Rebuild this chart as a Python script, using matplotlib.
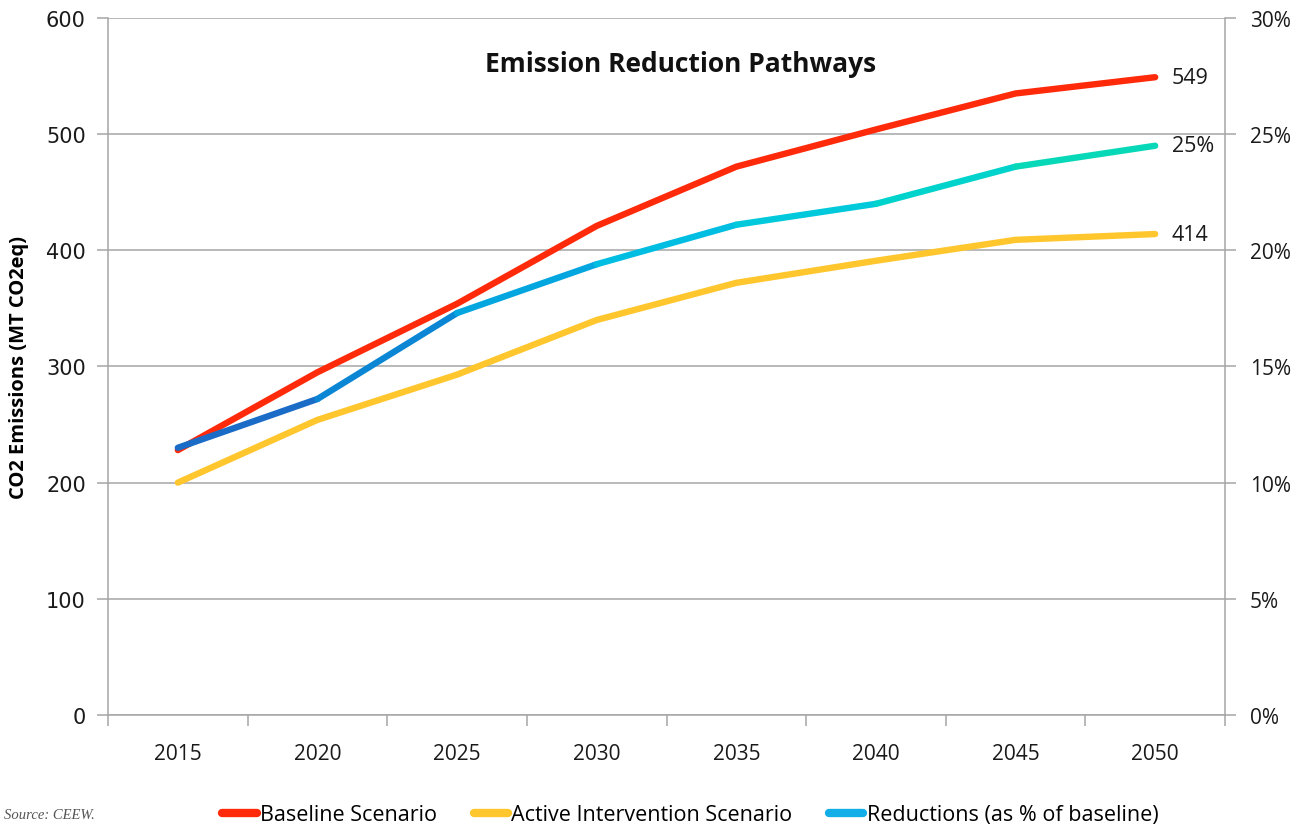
import numpy as np
import matplotlib
matplotlib.use("Agg")
import matplotlib.pyplot as plt
from matplotlib.collections import LineCollection
from matplotlib.ticker import FuncFormatter

years = ["2015", "2020", "2025", "2030", "2035", "2040", "2045", "2050"]
baseline = [228, 295, 354, 421, 472, 504, 535, 549]
active = [200, 254, 293, 340, 372, 391, 409, 414]
reductions = [11.5, 13.6, 17.3, 19.4, 21.1, 22.0, 23.6, 24.5]

RED = "#ff2a0a"
YELLOW = "#ffc62e"
BLUE_LEG = "#12aee8"
GRID = "#a6a6a6"
seg_colors = ["#1a6cc6", "#0a86d4", "#04a6e0", "#00bde2", "#00c9dc", "#00d2cc", "#06d8b8"]

plt.rcParams["font.family"] = ["Open Sans", "DejaVu Sans"]

fig = plt.figure(figsize=(13, 8.28), dpi=100)
ax = fig.add_axes([0.0831, 0.1353, 0.8592, 0.8418])
x = np.arange(len(years))

ax.plot(x, active, color=YELLOW, lw=4.6, solid_capstyle="round", solid_joinstyle="round", zorder=3)
ax.plot(x, baseline, color=RED, lw=4.6, solid_capstyle="round", solid_joinstyle="round", zorder=4)

ax.set_xlim(-0.5, len(years) - 0.5)
ax.set_ylim(0, 600)
ax.set_yticks(range(0, 601, 100))
ax.yaxis.grid(True, color=GRID, lw=1.1)
ax.set_axisbelow(True)
ax.set_xticks(x)
ax.set_xticklabels(years)
ax.set_xticks(np.arange(-0.5, len(years)), minor=True)
ax.tick_params(axis="x", which="major", length=0, pad=20, labelsize=15, colors="#1a1a1a")
ax.tick_params(axis="x", which="minor", length=8, color=GRID, width=1.1)
ax.tick_params(axis="y", length=8, color=GRID, width=1.1, labelsize=15, labelcolor="#1a1a1a", pad=8)
for lab in ax.get_yticklabels():
    lab.set_family("DejaVu Sans")
for side in ["left", "right", "bottom"]:
    ax.spines[side].set_color(GRID)
    ax.spines[side].set_linewidth(1.1)
ax.spines["top"].set_visible(False)
ax.set_ylabel("CO2 Emissions (MT CO2eq)", fontsize=14.5, fontweight="bold", labelpad=12)

ax2 = ax.twinx()
ax2.set_ylim(0, 30)
ax2.set_yticks(range(0, 31, 5))
ax2.yaxis.set_major_formatter(FuncFormatter(lambda v, p: f"{v:.0f}%"))
ax2.tick_params(axis="y", length=8, color=GRID, width=1.1, labelsize=15, labelcolor="#1a1a1a", pad=10)
for side in ["left", "right", "bottom", "top"]:
    ax2.spines[side].set_visible(False)

pts = np.column_stack([x, reductions])
segs = np.stack([pts[:-1], pts[1:]], axis=1)
lc = LineCollection(segs, colors=seg_colors, linewidths=4.6, capstyle="round", joinstyle="round", zorder=5)
ax2.add_collection(lc)

ax.text(x[-1] + 0.12, baseline[-1], f"{baseline[-1]}", fontsize=15.5, va="center", color="#1a1a1a")
ax.text(x[-1] + 0.12, active[-1], f"{active[-1]}", fontsize=15.5, va="center", color="#1a1a1a")
ax2.text(x[-1] + 0.12, reductions[-1], f"{int(reductions[-1] + 0.5)}%", fontsize=15.5, va="center", color="#1a1a1a")

ax.text(0.513, 0.935, "Emission Reduction Pathways", transform=ax.transAxes,
        ha="center", va="center", fontsize=19, fontweight="bold", color="#111111")

handles = [
    plt.Line2D([], [], color=RED, lw=6, solid_capstyle="round"),
    plt.Line2D([], [], color=YELLOW, lw=6, solid_capstyle="round"),
    plt.Line2D([], [], color=BLUE_LEG, lw=6, solid_capstyle="round"),
]
fig.legend(handles, ["Baseline Scenario", "Active Intervention Scenario", "Reductions (as % of baseline)"],
           loc="center", bbox_to_anchor=(0.531, 0.015), ncol=3, frameon=False, fontsize=15.5,
           handlelength=1.6, handletextpad=0.15, columnspacing=1.7)

fig.text(0.003, 0.015, "Source: CEEW.", ha="left", va="center", fontsize=10.5,
         style="italic", family="Liberation Serif", color="#555555")

fig.savefig("out.png", dpi=100)
plt.close(fig)
